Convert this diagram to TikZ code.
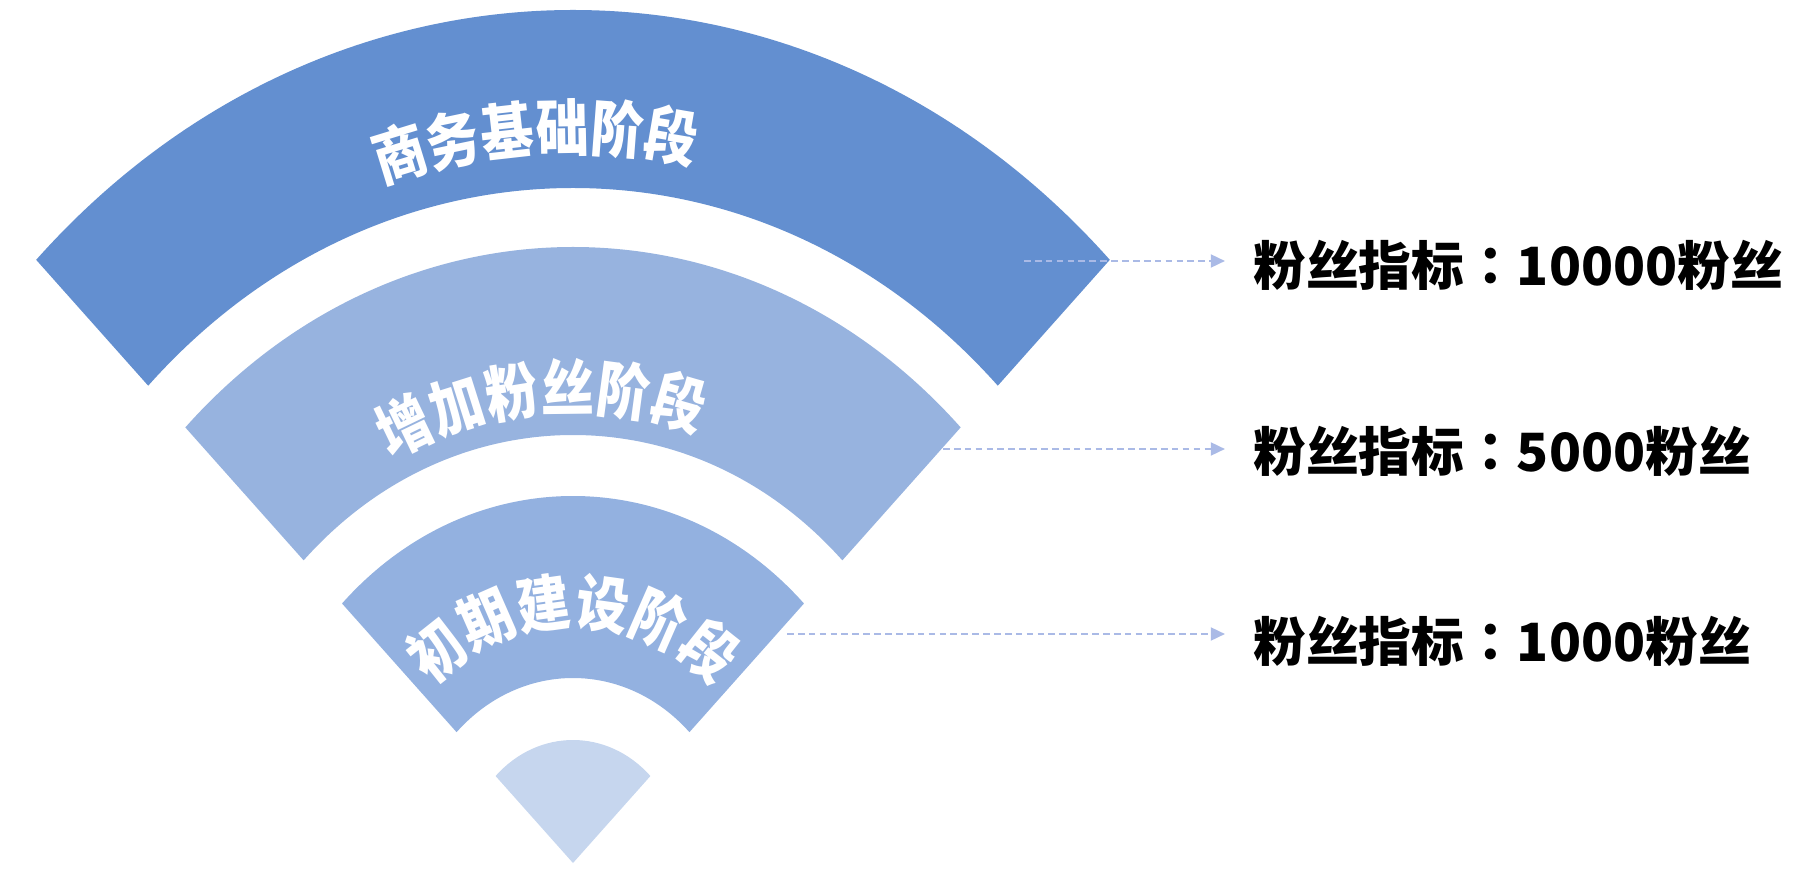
\documentclass[tikz,border=0pt]{standalone}
\usepackage{fontspec}
\usepackage{tikz}
\usetikzlibrary{positioning, arrows.meta, decorations.text}
\newfontfamily\cjk{Noto Sans CJK SC}
\newfontfamily\cjktc{Noto Sans CJK TC}
\newfontfamily\stagefont{Noto Sans CJK SC}[FakeStretch=0.86]
\definecolor{bandtop}{RGB}{99,143,208}
\definecolor{bandmid}{RGB}{151,179,223}
\definecolor{bandlow}{RGB}{147,177,224}
\definecolor{bandtip}{RGB}{198,214,238}
\definecolor{guideline}{RGB}{170,186,230}
\newcommand\bandring[3]{\fill[#1] (45:#2) -- (45:#3) arc[start angle=45, end angle=135, radius=#3*0.2mm] -- (135:#2) arc[start angle=135, end angle=45, radius=#2*0.2mm] -- cycle;}
\newcommand\colonmark{{\cjktc ：}}
\tikzset{
  target/.style={anchor=west, inner sep=0pt, font=\cjk\bfseries\fontsize{30}{36}\selectfont},
  guide/.style={draw=guideline, line width=0.8pt, dash pattern=on 3.8pt off 2.4pt, shorten >=16pt, -{Triangle[length=8pt, width=7.5pt, fill=guideline]}},
  stage/.style={decorate, decoration={text along path, text align=center, text color=white, text={|\stagefont\bfseries\fontsize{35}{40}\selectfont|#1}}},
}
\begin{document}
\begin{tikzpicture}[x=0.2mm, y=0.2mm]
\useasboundingbox (-573,-5) rectangle (1241,863);
\begin{scope}[xscale=0.89]
\bandring{bandtop}{675}{853}
\bandring{bandmid}{428}{616}
\bandring{bandlow}{185}{367}
\fill[bandtip] (0,0) -- (45:123) arc[start angle=45, end angle=135, radius=123*0.2mm] -- cycle;
\path[stage={商务基础阶段}] (163:712) arc[start angle=163, end angle=23, radius=712*0.2mm];
\path[stage={增加粉丝阶段}] (174:452) arc[start angle=174, end angle=14, radius=452*0.2mm];
\path[stage={初期建设阶段}] (177:238) arc[start angle=177, end angle=3, radius=238*0.2mm];
\end{scope}
\coordinate (s1) at (451,602);
\coordinate (s2) at (370,414);
\coordinate (s3) at (214,229);
\node[target] (lab1) at (680,598) {粉丝指标\colonmark 10000粉丝};
\node[target] (lab2) at (680,412) {粉丝指标\colonmark 5000粉丝};
\node[target] (lab3) at (680,222) {粉丝指标\colonmark 1000粉丝};
\draw[guide] (s1) -- (s1 -| lab1.west);
\draw[guide] (s2) -- (s2 -| lab2.west);
\draw[guide] (s3) -- (s3 -| lab3.west);
\end{tikzpicture}
\end{document}
